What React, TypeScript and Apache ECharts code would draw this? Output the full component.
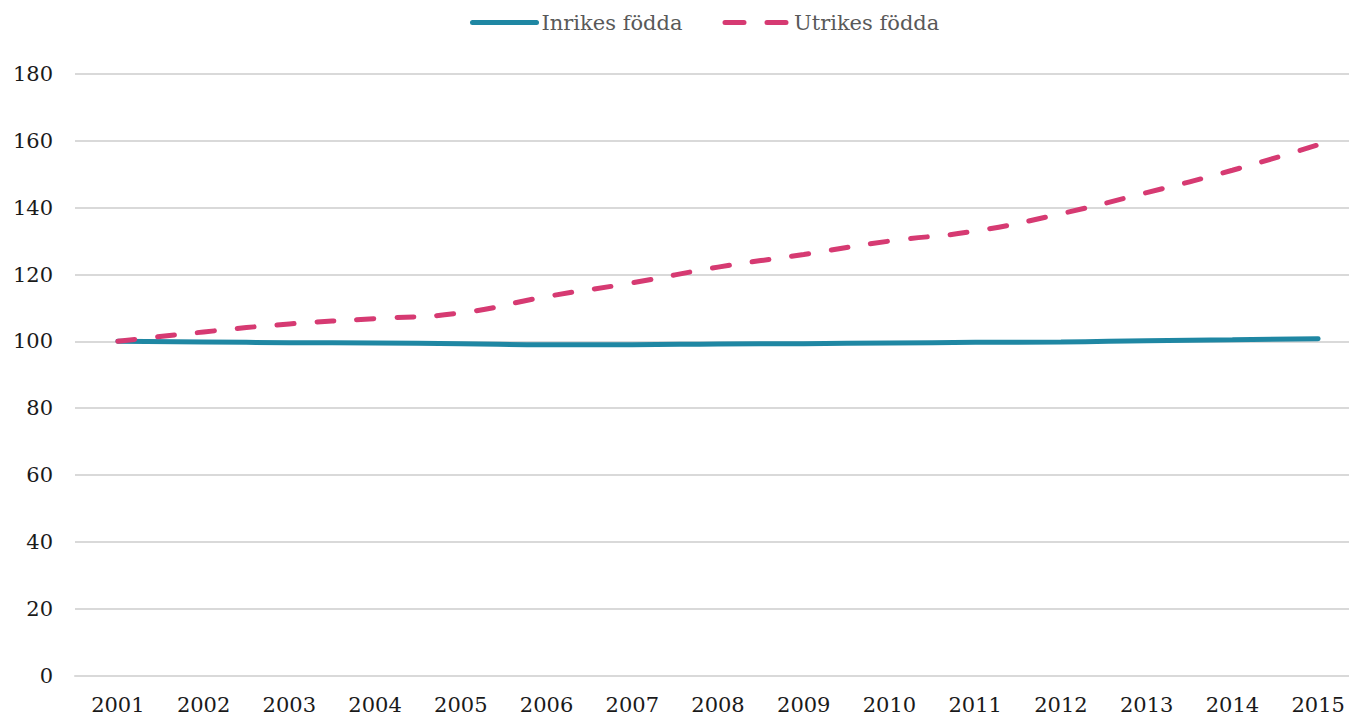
import React, { useEffect, useRef } from "react";
import * as echarts from "echarts";

const years = ["2001","2002","2003","2004","2005","2006","2007","2008","2009","2010","2011","2012","2013","2014","2015"];
const inrikes = [100, 99.8, 99.6, 99.5, 99.3, 99.0, 99.0, 99.2, 99.3, 99.5, 99.7, 99.8, 100.2, 100.5, 100.8];
const utrikes = [100, 102.8, 105.2, 106.8, 108.5, 113.4, 117.5, 122.2, 126.0, 130.0, 133.0, 138.2, 144.5, 151.2, 158.8];
const seriesNames = ["Inrikes födda", "Utrikes födda"];

const FONT = "DejaVu Serif";
const TEAL = "#1f87a3";
const PINK = "#d63a72";

export default function App() {
  const ref = useRef<HTMLDivElement>(null);
  useEffect(() => {
    if (!ref.current) return;
    const chart = echarts.init(ref.current, null, { renderer: "svg" });
    chart.setOption({
      animation: false,
      backgroundColor: "#ffffff",
      legend: {
        top: 7,
        left: 465,
        itemWidth: 64,
        itemHeight: 14,
        itemGap: 40,
        itemStyle: { opacity: 0 },
        textStyle: { fontFamily: FONT, fontSize: 21, color: "#595959" },
        data: [
          { name: seriesNames[0], lineStyle: { width: 5, cap: "round", color: TEAL } },
          { name: seriesNames[1], lineStyle: { width: 5, cap: "round", color: PINK, type: [19, 23] } },
        ],
      },
      grid: { left: 75, width: 1286, top: 74, bottom: 39, containLabel: false },
      xAxis: {
        type: "category",
        data: years,
        boundaryGap: true,
        axisLine: { show: true, lineStyle: { color: "#d9d9d9", width: 2 } },
        axisTick: { show: false },
        axisLabel: { fontFamily: FONT, fontSize: 21, lineHeight: 20, color: "#1a1a1a", margin: 19 },
      },
      yAxis: {
        type: "value",
        min: 0,
        max: 180,
        interval: 20,
        axisLine: { show: false },
        axisTick: { show: false },
        axisLabel: { fontFamily: FONT, fontSize: 21, color: "#1a1a1a", margin: 22 },
        splitLine: { lineStyle: { color: "#d9d9d9", width: 2 } },
      },
      series: [
        {
          name: seriesNames[0],
          type: "line",
          data: inrikes,
          smooth: true,
          symbol: "none",
          color: TEAL,
          lineStyle: { color: TEAL, width: 5, cap: "round" },
        },
        {
          name: seriesNames[1],
          type: "line",
          data: utrikes,
          smooth: true,
          symbol: "none",
          color: PINK,
          lineStyle: { color: PINK, width: 5, type: [17, 23], cap: "round" },
        },
      ],
    });
    return () => chart.dispose();
  }, []);
  return (
    <div style={{ position: "absolute", left: 0, top: 0, width: 1349, height: 715, overflow: "hidden" }}>
      <div ref={ref} style={{ position: "absolute", left: 0, top: 0, width: 1361, height: 715 }} />
    </div>
  );
}
